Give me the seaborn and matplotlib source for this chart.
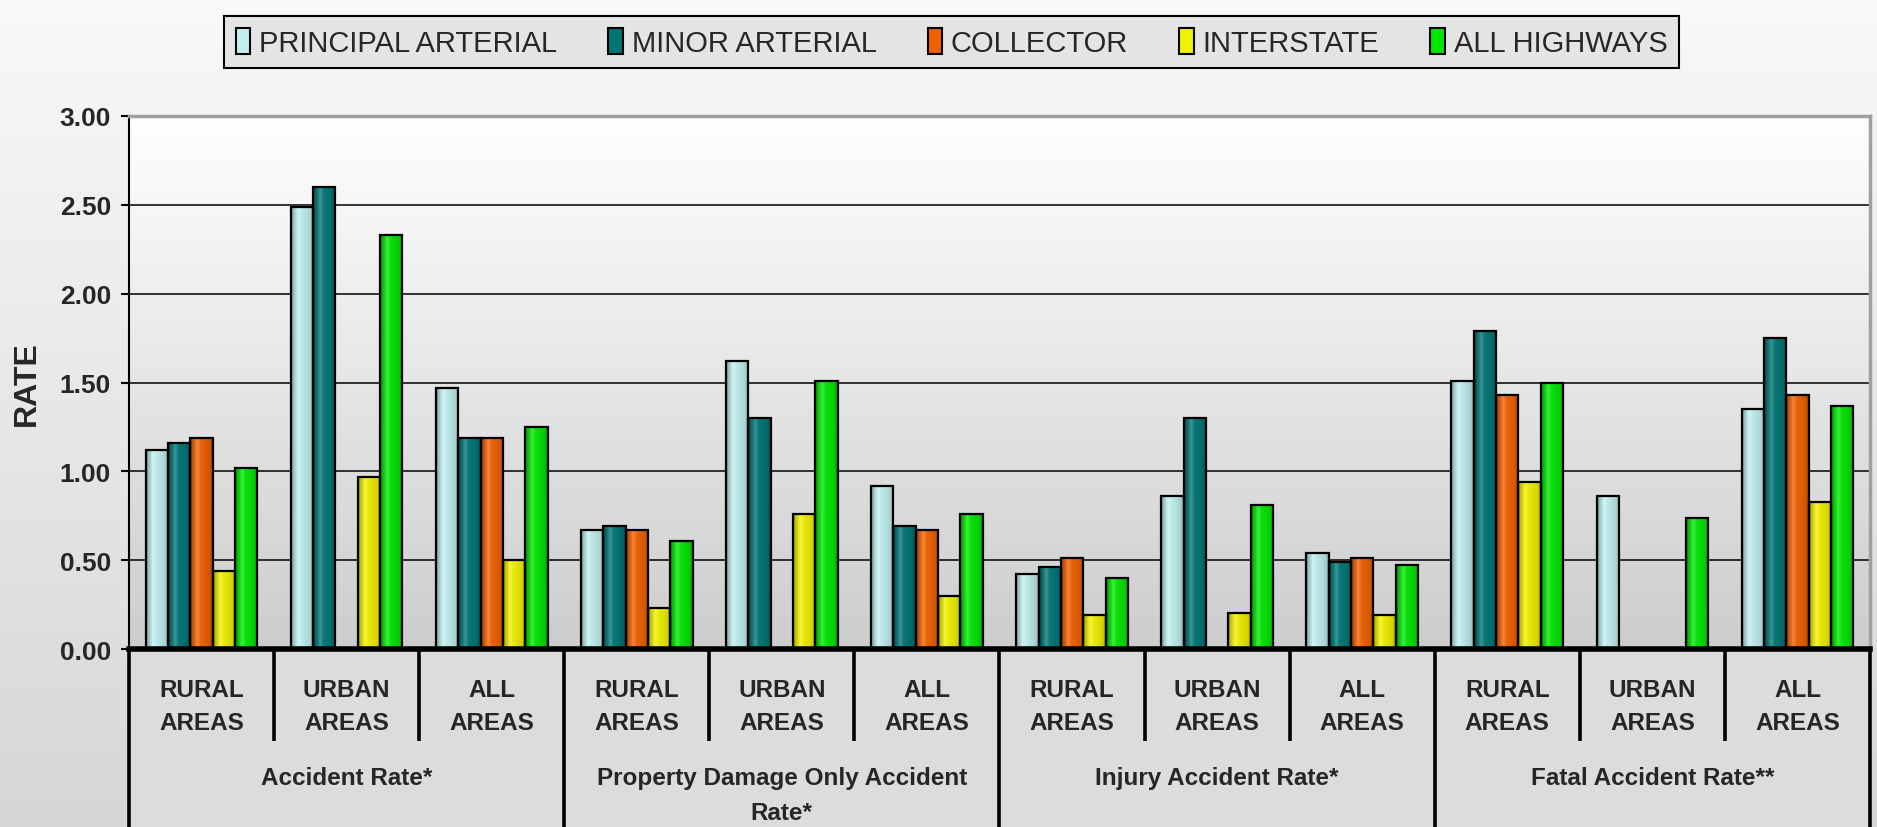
import numpy as np
import pandas as pd
import matplotlib
matplotlib.use('Agg')
from matplotlib import pyplot as plt
from matplotlib.patches import Patch, Rectangle
from matplotlib.colors import LinearSegmentedColormap
import seaborn as sns

nan = np.nan

# chart data
categories = ['Accident Rate*', 'Property Damage Only Accident\nRate*',
              'Injury Accident Rate*', 'Fatal Accident Rate**']
areas = ['RURAL\nAREAS', 'URBAN\nAREAS', 'ALL\nAREAS']
series = ['PRINCIPAL ARTERIAL', 'MINOR ARTERIAL', 'COLLECTOR', 'INTERSTATE', 'ALL HIGHWAYS']

principal_arterial = [1.12, 2.49, 1.47, 0.67, 1.62, 0.92, 0.42, 0.86, 0.54, 1.51, 0.86, 1.35]
minor_arterial = [1.16, 2.60, 1.19, 0.69, 1.30, 0.69, 0.46, 1.30, 0.49, 1.79, nan, 1.75]
collector = [1.19, nan, 1.19, 0.67, nan, 0.67, 0.51, nan, 0.51, 1.43, nan, 1.43]
interstate = [0.44, 0.97, 0.50, 0.23, 0.76, 0.30, 0.19, 0.20, 0.19, 0.94, nan, 0.83]
all_highways = [1.02, 2.33, 1.25, 0.61, 1.51, 0.76, 0.40, 0.81, 0.47, 1.50, 0.74, 1.37]

series_colors = ['#bff0ee', '#007474', '#f06000', '#f0f000', '#00e600']

values = [principal_arterial, minor_arterial, collector, interstate, all_highways]
rows = []
for name, vals in zip(series, values):
    for slot, v in enumerate(vals):
        rows.append({'slot': slot, 'series': name, 'rate': v})
df = pd.DataFrame(rows).dropna()

sns.set_style('white')
plt.rcParams['font.family'] = ['Liberation Sans', 'DejaVu Sans']

W, H = 1877, 828
fig = plt.figure(figsize=(W / 100, H / 100), dpi=100)

# figure background gradient
bg = fig.add_axes([0, 0, 1, 1], zorder=-10)
bg_cmap = LinearSegmentedColormap.from_list('bg', ['#d6d6d6', '#f9f9f9'])
bg.imshow(np.linspace(0, 1, 256).reshape(-1, 1), cmap=bg_cmap, aspect='auto',
          extent=[0, 1, 0, 1], origin='lower')
bg.axis('off')

left, right, top, bottom = 129, 1870, 117, 650
ax = fig.add_axes([left / W, 1 - bottom / H, (right - left) / W, (bottom - top) / H])
ax.patch.set_alpha(0)

plot_cmap = LinearSegmentedColormap.from_list('pa', ['#cdcdcd', '#ffffff'])
ax.imshow(np.linspace(0, 1, 256).reshape(-1, 1), cmap=plot_cmap, aspect='auto',
          extent=[0, 1, 0, 1], origin='lower', transform=ax.transAxes, zorder=0.1)

sns.barplot(data=df, x='slot', y='rate', hue='series', hue_order=series,
            palette=series_colors, saturation=1, width=0.77, edgecolor='black',
            linewidth=1.6, legend=False, ax=ax)

# cylinder-like shading on each bar
t = np.linspace(0, 1, 40)
shade = np.interp(t, [0, 0.08, 0.3, 0.45, 0.85, 1], [0.55, 0.75, 1.0, 0.97, 0.88, 0.7])
glow = np.interp(t, [0, 0.2, 0.32, 0.45, 1], [0, 0.1, 0.25, 0.05, 0])
for p in list(ax.patches):
    if not isinstance(p, Rectangle) or p.get_height() <= 0:
        continue
    c = np.array(p.get_facecolor()[:3])
    img = c[None, :] * shade[:, None]
    img = img + (1 - img) * glow[:, None]
    x0, w, h = p.get_x(), p.get_width(), p.get_height()
    ax.imshow(np.clip(img, 0, 1)[None, :, :], extent=[x0, x0 + w, 0, h],
              aspect='auto', interpolation='bilinear', zorder=2.5)
    p.set_facecolor('none')
    p.set_zorder(3)

ax.set_xlim(-0.5, 11.5)
ax.set_ylim(0, 3)
ax.set_yticks(np.arange(0, 3.01, 0.5))
ax.set_yticklabels([f'{v:.2f}' for v in np.arange(0, 3.01, 0.5)],
                   fontsize=19, fontweight='bold')
ax.tick_params(axis='y', length=6, width=1.5, color='black', direction='out', pad=7, left=True)
ax.set_xticks([])
ax.set_xlabel('')
ax.yaxis.grid(True, color='black', linewidth=1.1)
ax.set_axisbelow(True)
ax.set_ylabel('RATE', fontsize=23, fontweight='bold')
ax.yaxis.set_label_coords(-0.05, 0.5)

for s in ['top', 'right']:
    ax.spines[s].set_color('#a0a0a0')
    ax.spines[s].set_linewidth(2.5)
ax.spines['left'].set_color('black')
ax.spines['left'].set_linewidth(1.5)
ax.spines['bottom'].set_color('black')
ax.spines['bottom'].set_linewidth(4)

# category table under the plot
tr = ax.get_xaxis_transform()
axh = bottom - top
y_tab = -(H - bottom) / axh
y_sub = -(742 - bottom) / axh
ax.add_patch(Rectangle((-0.5, y_tab), 12, -y_tab, transform=tr, clip_on=False,
                       facecolor='#dcdcdc', edgecolor='none', zorder=0))
for i in range(13):
    y_end = y_tab if i % 3 == 0 else y_sub
    ax.plot([i - 0.5, i - 0.5], [0, y_end], transform=tr, color='black',
            linewidth=2.6, clip_on=False, solid_capstyle='butt')
for i in range(12):
    ax.text(i, -(707 - bottom) / axh, areas[i % 3], transform=tr, ha='center',
            va='center', fontsize=17.5, fontweight='bold', linespacing=1.6)
for j, cat in enumerate(categories):
    ax.text(3 * j + 1, -(767 - bottom) / axh, cat, transform=tr, ha='center',
            va='top', fontsize=17.5, fontweight='bold', linespacing=1.65)

handles = [Patch(facecolor=c, edgecolor='black', linewidth=1.5) for c in series_colors]
leg = fig.legend(handles, series, loc='upper center', bbox_to_anchor=(0.507, 0.997),
                 ncol=5, fontsize=21, frameon=True, fancybox=False, edgecolor='black',
                 facecolor='#e4e4e4', framealpha=1, handlelength=0.5, handleheight=1.0,
                 handletextpad=0.3, columnspacing=1.75, borderpad=0.4)
leg.get_frame().set_linewidth(1.5)

fig.savefig('out.png', dpi=100)
